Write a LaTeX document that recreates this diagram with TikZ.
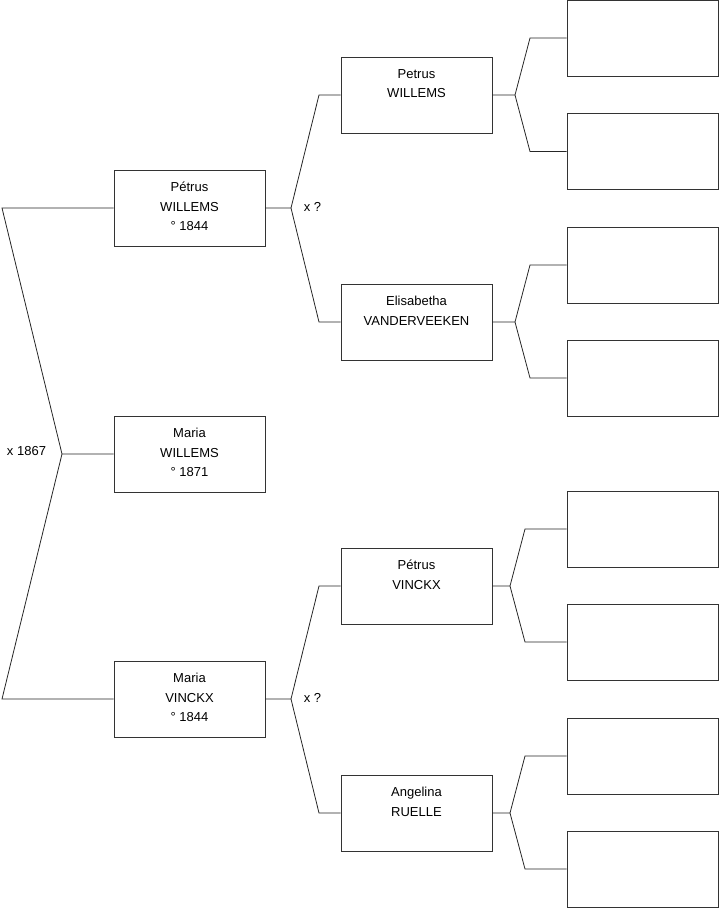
\documentclass[tikz,border=0pt]{standalone}
\usepackage{fontspec}
\setmainfont{Liberation Sans}
\tikzset{
  person/.style={draw=black!80, line width=0.8pt, minimum width=151pt, minimum height=76pt, inner sep=0pt,
    label={[anchor=north, align=center, yshift=-9pt, font=\fontsize{13}{19.5}\selectfont]north:#1}},
  link/.style={line width=0.8pt, black!85},
  marriage/.style={font=\fontsize{13}{15}\selectfont}
}
\begin{document}
\begin{tikzpicture}[x=1pt, y=-1pt]
      \useasboundingbox (0,0) rectangle (719,908);

      \node[person={Maria\\WILLEMS\\° 1871}] (maria) at (189.5,454){};
      \node[person={Pétrus\\WILLEMS\\° 1844}] (petrus) at (189.5,208){};
      \node[person={Maria\\VINCKX\\° 1844}] (mariav) at (189.5,699){};
      \node[person={Petrus\\WILLEMS}] (petrusw) at (416.5,95){};
      \node[person={Elisabetha\\VANDERVEEKEN}] (elis) at (416.5,322){};
      \node[person={Pétrus\\VINCKX}] (petrusv) at (416.5,586){};
      \node[person={Angelina\\RUELLE}] (angel) at (416.5,813){};
      \node[person={}] (e1) at (642.5,38){};
      \node[person={}] (e2) at (642.5,151.5){};
      \node[person={}] (e3) at (642.5,265){};
      \node[person={}] (e4) at (642.5,378){};
      \node[person={}] (e5) at (642.5,529){};
      \node[person={}] (e6) at (642.5,642){};
      \node[person={}] (e7) at (642.5,756){};
      \node[person={}] (e8) at (642.5,869){};

      \node[marriage] (m0) at (26.5,451){x 1867};
      \node[marriage] (m1) at (312.5,207){x ?};
      \node[marriage] (m2) at (312.5,698){x ?};

      \coordinate (f0) at (62,454);
      \coordinate (f1) at (291,208);
      \coordinate (f2) at (291,699);
      \coordinate (f3) at (515,95);
      \coordinate (f4) at (515,322);
      \coordinate (f5) at (510,586);
      \coordinate (f6) at (510,813);

      \draw[link] (maria.west) -- (f0) -- (2,208) -- (petrus.west);
      \draw[link] (f0) -- (2,699) -- (mariav.west);
      \draw[link] (petrus.east) -- (f1) -- (319,95) -- (petrusw.west);
      \draw[link] (f1) -- (319,322) -- (elis.west);
      \draw[link] (mariav.east) -- (f2) -- (319,586) -- (petrusv.west);
      \draw[link] (f2) -- (319,813) -- (angel.west);
      \draw[link] (petrusw.east) -- (f3) -- (530,38) -- (e1.west);
      \draw[link] (f3) -- (530,151.5) -- (e2.west);
      \draw[link] (elis.east) -- (f4) -- (530,265) -- (e3.west);
      \draw[link] (f4) -- (530,378) -- (e4.west);
      \draw[link] (petrusv.east) -- (f5) -- (525,529) -- (e5.west);
      \draw[link] (f5) -- (525,642) -- (e6.west);
      \draw[link] (angel.east) -- (f6) -- (525,756) -- (e7.west);
      \draw[link] (f6) -- (525,869) -- (e8.west);
    \end{tikzpicture}
\end{document}
